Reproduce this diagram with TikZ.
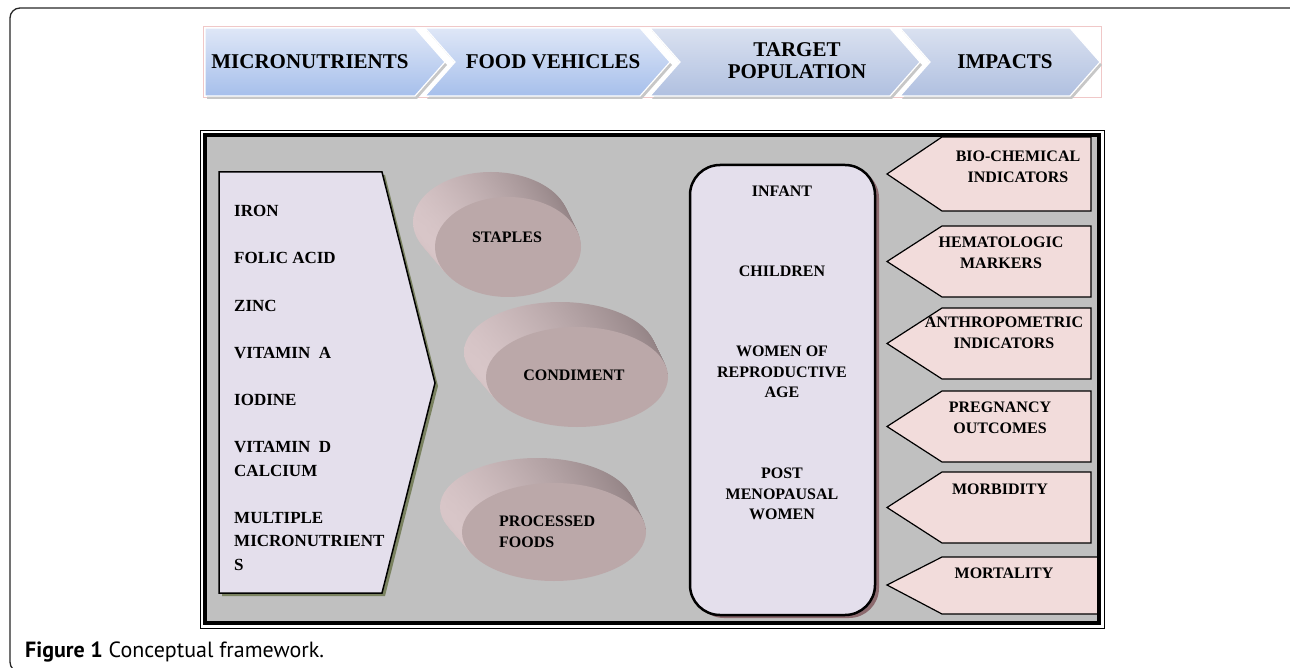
\documentclass[tikz,border=0pt]{standalone}
\usepackage{fontspec}
\setmainfont{Liberation Serif}
\newfontfamily\capfont{PT Sans}
\usetikzlibrary{positioning,calc}

\definecolor{panelgray}{RGB}{192,192,192}
\definecolor{lavender}{RGB}{228,223,236}
\definecolor{rosebox}{RGB}{242,220,219}
\definecolor{discface}{RGB}{187,168,169}
\definecolor{disclight}{RGB}{216,198,200}
\definecolor{discdark}{RGB}{146,130,132}
\definecolor{olivesh}{RGB}{122,130,96}
\definecolor{plumsh}{RGB}{140,106,110}
\definecolor{barpink}{RGB}{240,200,200}
\definecolor{barAtop}{RGB}{223,231,247}
\definecolor{barAbot}{RGB}{166,191,235}
\definecolor{barBtop}{RGB}{218,225,240}
\definecolor{barBbot}{RGB}{176,192,224}

\tikzset{
  lbl/.style={font=\bfseries\fontsize{16}{20.5}\selectfont, inner sep=0pt, align=center},
  listlbl/.style={font=\bfseries\fontsize{17}{20}\selectfont, inner sep=0pt, anchor=base west},
  barlbl/.style={font=\bfseries\fontsize{21}{22}\selectfont, inner sep=0pt, align=center},
  impactbox/.style={fill=rosebox, draw=black, line width=1.2pt},
}

\begin{document}
\begin{tikzpicture}[x=1pt,y=-1pt]
	\useasboundingbox (0,0) rectangle (1290,668);

	% page frame
	\draw[line width=1.3pt, black!85, rounded corners=10pt] (1290,8) -- (10,8) -- (10,672) -- (40,672);

	% chevron bar on top
	\draw[barpink, line width=0.8pt] (203,26) rectangle (1101,97);
	\foreach \xa/\xb/\dn/\tc/\bc in {205/415/0/barAtop/barAbot, 425/640/30/barAtop/barAbot,
	                                  650/890/30/barBtop/barBbot, 900/1070/30/barBtop/barBbot}
	{
	    \fill[black!22] (\xa+2,31) -- (\xb+2,31) -- (\xb+32,65) -- (\xb+2,99) -- (\xa+2,99) -- (\xa+\dn+2,65) -- cycle;
	    \path[top color=\tc, bottom color=\bc, draw=white, line width=1.2pt]
	        (\xa,28) -- (\xb,28) -- (\xb+30,62) -- (\xb,96) -- (\xa,96) -- (\xa+\dn,62) -- cycle;
	}
	\node[barlbl] (micro)   at (310,62) {MICRONUTRIENTS};
	\node[barlbl] (food)    at (553,62) {FOOD VEHICLES};
	\node[barlbl] (target)  at (797,61) {TARGET\\POPULATION};
	\node[barlbl] (impacts) at (1005,62) {IMPACTS};

	% gray panel
	\fill[panelgray] (205,135) rectangle (1099,623);

	% micronutrient list
	\fill[olivesh] (222,175) -- (385,175) -- (438,386) -- (385,596) -- (222,596) -- cycle;
	\draw[fill=lavender, line width=1.5pt] (219,172) -- (382,172) -- (435,383) -- (382,593) -- (219,593) -- cycle;
	\foreach \t/\y [count=\i] in {IRON/217, FOLIC ACID/264, ZINC/311, VITAMIN~~A/358, IODINE/405,
	                              VITAMIN~~D/452, CALCIUM/476, MULTIPLE/523, MICRONUTRIENT/546, S/570}
	    \node[listlbl] (nut\i) at (234,\y) {\t};

	% food vehicles as tilted discs, side built up from back to front
	\foreach \cx/\cy/\rx/\ry in {508/247/73/50, 577/377/91/50, 554/532/92/49}
	{
	    \foreach \k in {24,...,1}
	        \path[left color=disclight, right color=discdark]
	            (\cx-17*\k/24,\cy-25*\k/24) ellipse[x radius=\rx+5*\k/24, y radius=\ry];
	    \fill[discface] (\cx,\cy) ellipse[x radius=\rx, y radius=\ry];
	}
	\node[lbl] (staples)   at (507,237) {STAPLES};
	\node[lbl] (condiment) at (574,375) {CONDIMENT};
	\node[lbl, align=left, anchor=west] (processed) at (499,532) {PROCESSED\\FOODS};

	% target population
	\fill[plumsh, rounded corners=30pt] (694,168) rectangle (879,618);
	\draw[fill=lavender, line width=2.5pt, rounded corners=30pt] (690,165) rectangle (875,615);
	\node[lbl] (infant)   at (782,191) {INFANT};
	\node[lbl] (children) at (782,271) {CHILDREN};
	\node[lbl] (women)    at (782,372) {WOMEN OF\\REPRODUCTIVE\\AGE};
	\node[lbl] (post)     at (782,494) {POST\\MENOPAUSAL\\WOMEN};

	% impacts
	\foreach \top/\bot/\lx/\ly/\txt [count=\i] in {137/211/1018/167/{BIO-CHEMICAL\\INDICATORS},
	        226/297/1001/253/{HEMATOLOGIC\\MARKERS}, 308/379/1004/333/{ANTHROPOMETRIC\\INDICATORS},
	        391/462/1000/418/{PREGNANCY\\OUTCOMES}, 472/543/1000/489/{MORBIDITY}}
	{
	    \draw[impactbox] (887,{(\top+\bot)/2}) -- (942,\top) -- (1091,\top) -- (1091,\bot) -- (942,\bot) -- cycle;
	    \node[lbl] (imp\i) at (\lx,\ly) {\txt};
	}
	\draw[impactbox] (887,585) -- (942,557) -- (1099,557) -- (1099,614) -- (942,614) -- cycle;
	\node[lbl] (imp6) at (1004,573) {MORTALITY};

	% panel border
	\draw[line width=4.5pt] (205,135) rectangle (1099,623);
	\draw[line width=0.8pt] (200.5,130.5) rectangle (1104,628.5);

	% caption
	\node[anchor=base west, inner sep=0pt, font=\capfont\fontsize{22}{26}\selectfont] (caption) at (25,657)
	    {\textbf{Figure 1} Conceptual framework.};
\end{tikzpicture}
\end{document}
